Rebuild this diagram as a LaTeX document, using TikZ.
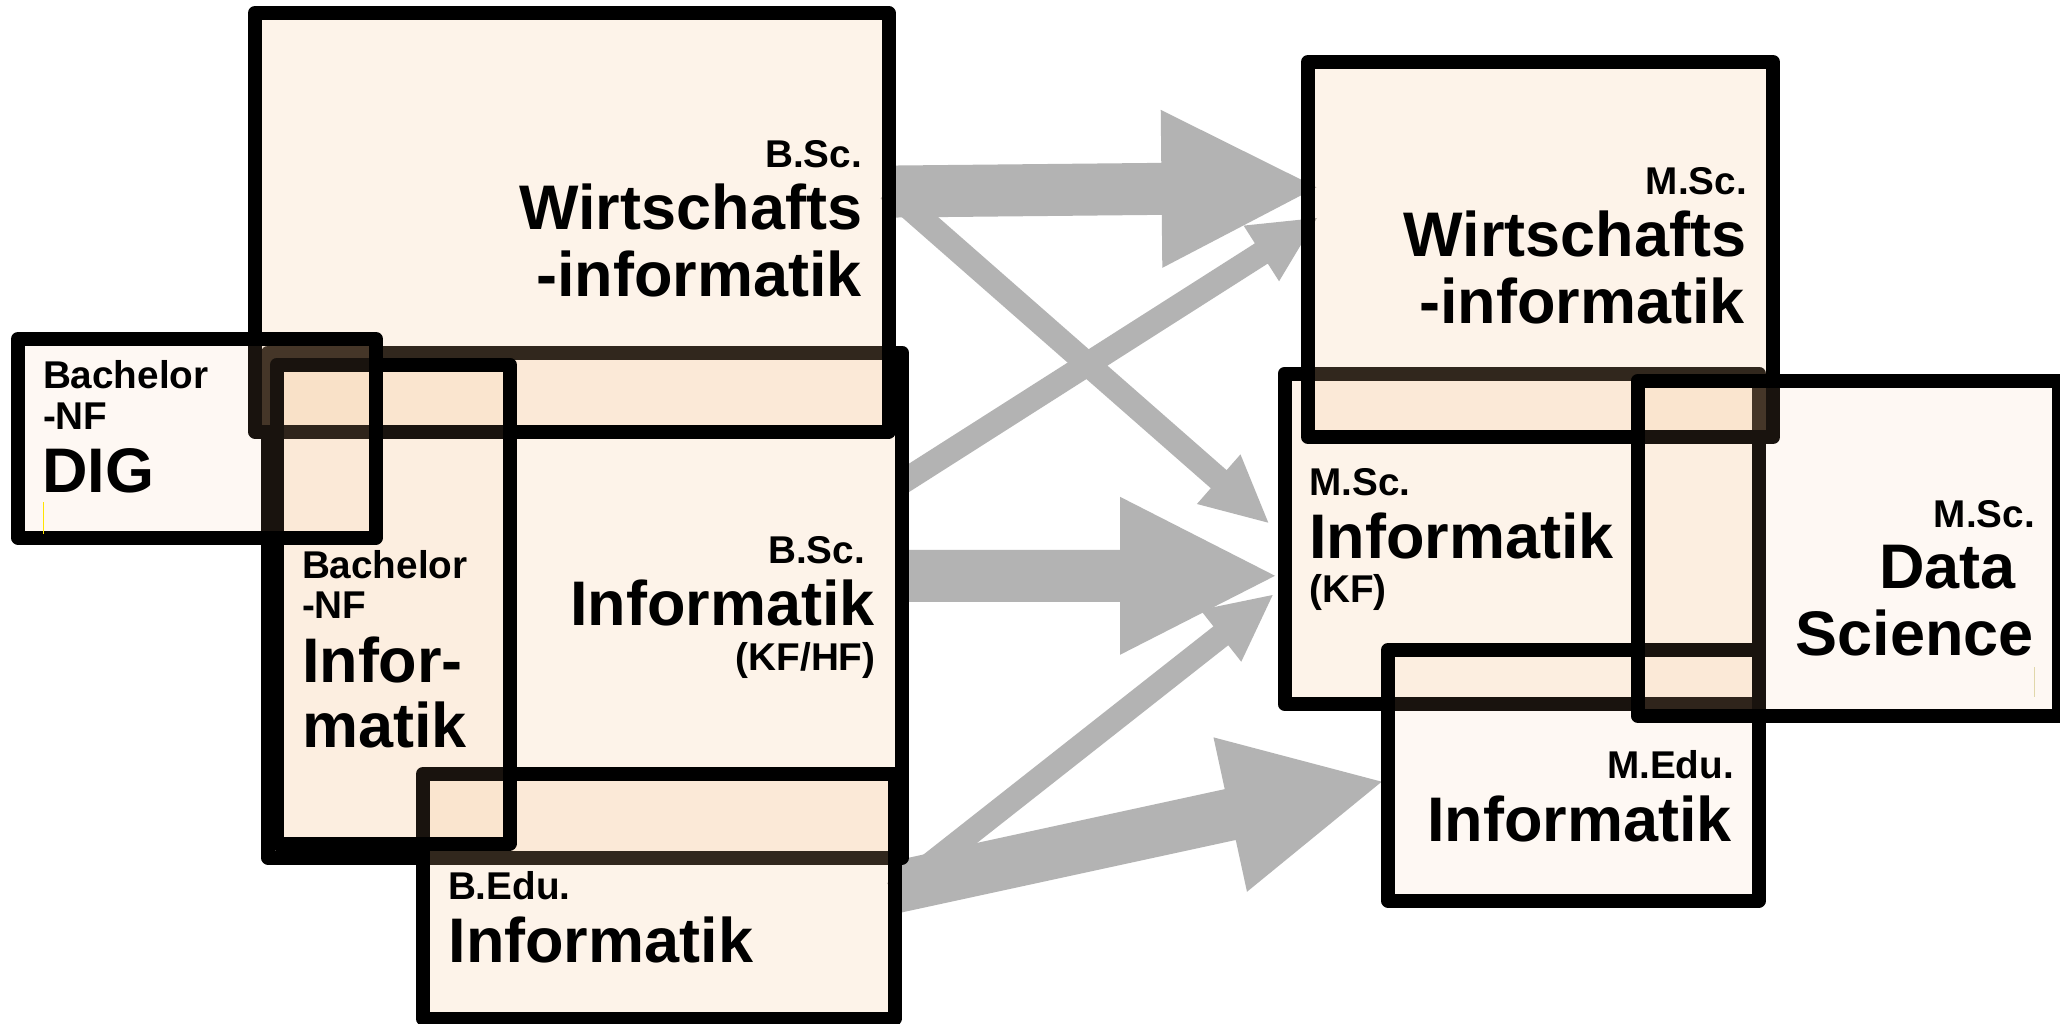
\documentclass[tikz,border=0pt]{standalone}
\usepackage{fontspec}
\setmainfont{Liberation Sans}
\usetikzlibrary{calc}
\definecolor{peach}{RGB}{247,195,145}
\definecolor{arrowgray}{RGB}{179,179,179}
\definecolor{cursorY}{RGB}{255,228,0}
\definecolor{cursorG}{RGB}{225,215,170}
\newcommand\lblbig{\fontsize{63}{66}\selectfont\bfseries}
\newcommand\lblsmall{\fontsize{38.7}{41}\selectfont\bfseries}
% #1 start, #2 tip, #3 half shaft width, #4 half head width, #5 head length
\newcommand\fatarrow[5]{%
  \coordinate (hb) at ($(#2)!#5!(#1)$);
  \fill[arrowgray] ($(#1)!#3!90:(#2)$) -- ($(hb)!#3!90:(#2)$) -- ($(hb)!#4!90:(#2)$) -- (#2)
    -- ($(hb)!#4!-90:(#2)$) -- ($(hb)!#3!-90:(#2)$) -- ($(#1)!#3!-90:(#2)$) -- cycle;
}
\begin{document}
\begin{tikzpicture}[x=1pt,y=-1pt,
  box/.style={rectangle, draw=black, line width=14pt, line join=round,
    fill=peach, fill opacity=0.2, inner sep=0pt, outer sep=0pt},
  lightbox/.style={box, fill opacity=0.1},
  big/.style={inner sep=0pt, outer sep=0pt, font=\lblbig},
  small/.style={inner sep=0pt, outer sep=0pt, font=\lblsmall}]
\path[use as bounding box] (0,0) rectangle (2060,1024);
\begin{scope}
\clip (0,0) rectangle (2060,1024);
\fill[white] (0,0) rectangle (2060,1024);

% arrow end points
\coordinate (a1s) at (888.5,191.6);  \coordinate (a1t) at (1316.5,187.3);
\coordinate (a2s) at (888.5,189.5);  \coordinate (a2t) at (1268.3,522.7);
\coordinate (a3s) at (902,482.3);    \coordinate (a3t) at (1317,218);
\coordinate (a4s) at (902,575.8);    \coordinate (a4t) at (1275,575.8);
\coordinate (a5s) at (894.5,892.6);  \coordinate (a5t) at (1272.7,595);
\coordinate (a6s) at (894.5,887.4);  \coordinate (a6t) at (1381.7,781.7);

% arrows (under the boxes)
\fatarrow{a2s}{a2t}{12pt}{33pt}{66pt}
\fatarrow{a3s}{a3t}{12pt}{33pt}{66pt}
\fatarrow{a5s}{a5t}{12pt}{33pt}{66pt}
\fatarrow{a1s}{a1t}{26pt}{79pt}{155pt}
\fatarrow{a4s}{a4t}{26pt}{79pt}{155pt}
\fatarrow{a6s}{a6t}{26pt}{79pt}{155pt}

% left boxes
\node[box, minimum width=634pt, minimum height=505pt] (bsInf) at (585,605) {};
\node[box, minimum width=471.5pt, minimum height=244.5pt] (beInf) at (658.75,896.25) {};
\node[box, minimum width=633.5pt, minimum height=418.5pt] (bsWI) at (571.75,222.25) {};
\node[lightbox, minimum width=232.5pt, minimum height=479pt] (nfInf) at (393.25,604) {};
\node[lightbox, minimum width=358pt, minimum height=198.5pt] (dig) at (197,438.25) {};

% right boxes
\node[box, minimum width=474.5pt, minimum height=330.5pt] (msInf) at (1521.75,538.75) {};
\node[lightbox, minimum width=371pt, minimum height=250.5pt] (meInf) at (1573.5,775.25) {};
\node[box, minimum width=465pt, minimum height=375pt] (msWI) at (1540.5,249.5) {};
\node[lightbox, minimum width=421.5pt, minimum height=334.5pt] (msDS) at (1848.25,548.25) {};

% small cursor marks
\draw[cursorY, line width=1pt] (43,502) -- (43,534);
\draw[cursorG, line width=1pt] (2034,667) -- (2034,697);

% texts: B.Sc. Wirtschaftsinformatik
\node[small, anchor=base east] (t1a) at (862,168) {B.Sc.};
\node[big, anchor=base east] (t1b) at (862,230) {Wirtschafts};
\node[big, anchor=base east] (t1c) at (862,296) {-informatik};
% B.Sc. Informatik
\node[small, anchor=base east] (t2a) at (865,563) {B.Sc.};
\node[big, anchor=base east] (t2b) at (875,625) {Informatik};
\node[small, anchor=base east] (t2c) at (875.5,670) {(KF/HF)};
% Bachelor-NF Informatik
\node[small, anchor=base west] (t3a) at (302,578) {Bachelor};
\node[small, anchor=base west] (t3b) at (302,618) {-NF};
\node[big, anchor=base west] (t3c) at (302,682) {Infor-};
\node[big, anchor=base west] (t3d) at (302,747) {matik};
% Bachelor-NF DIG
\node[small, anchor=base west] (t4a) at (43,388) {Bachelor};
\node[small, anchor=base west] (t4b) at (43,429) {-NF};
\node[big, anchor=base west] (t4c) at (42,492) {DIG};
% B.Edu. Informatik
\node[small, anchor=base west] (t5a) at (448,899) {B.Edu.};
\node[big, anchor=base west] (t5b) at (448.5,962) {Informatik};
% M.Sc. Wirtschaftsinformatik
\node[small, anchor=base east] (t6a) at (1747,195) {M.Sc.};
\node[big, anchor=base east] (t6b) at (1746,257) {Wirtschafts};
\node[big, anchor=base east] (t6c) at (1745,323) {-informatik};
% M.Sc. Informatik (KF)
\node[small, anchor=base west] (t7a) at (1309.5,495) {M.Sc.};
\node[big, anchor=base west] (t7b) at (1309,558) {Informatik};
\node[small, anchor=base west] (t7c) at (1309.5,602) {(KF)};
% M.Sc. Data Science
\node[small, anchor=base east] (t8a) at (2035,527) {M.Sc.};
\node[big, anchor=base east] (t8b) at (2016,588) {Data};
\node[big, anchor=base east] (t8c) at (2034,655) {Science};
% M.Edu. Informatik
\node[small, anchor=base east] (t9a) at (1734,778) {M.Edu.};
\node[big, anchor=base east] (t9b) at (1732,841) {Informatik};
\end{scope}
\end{tikzpicture}
\end{document}
